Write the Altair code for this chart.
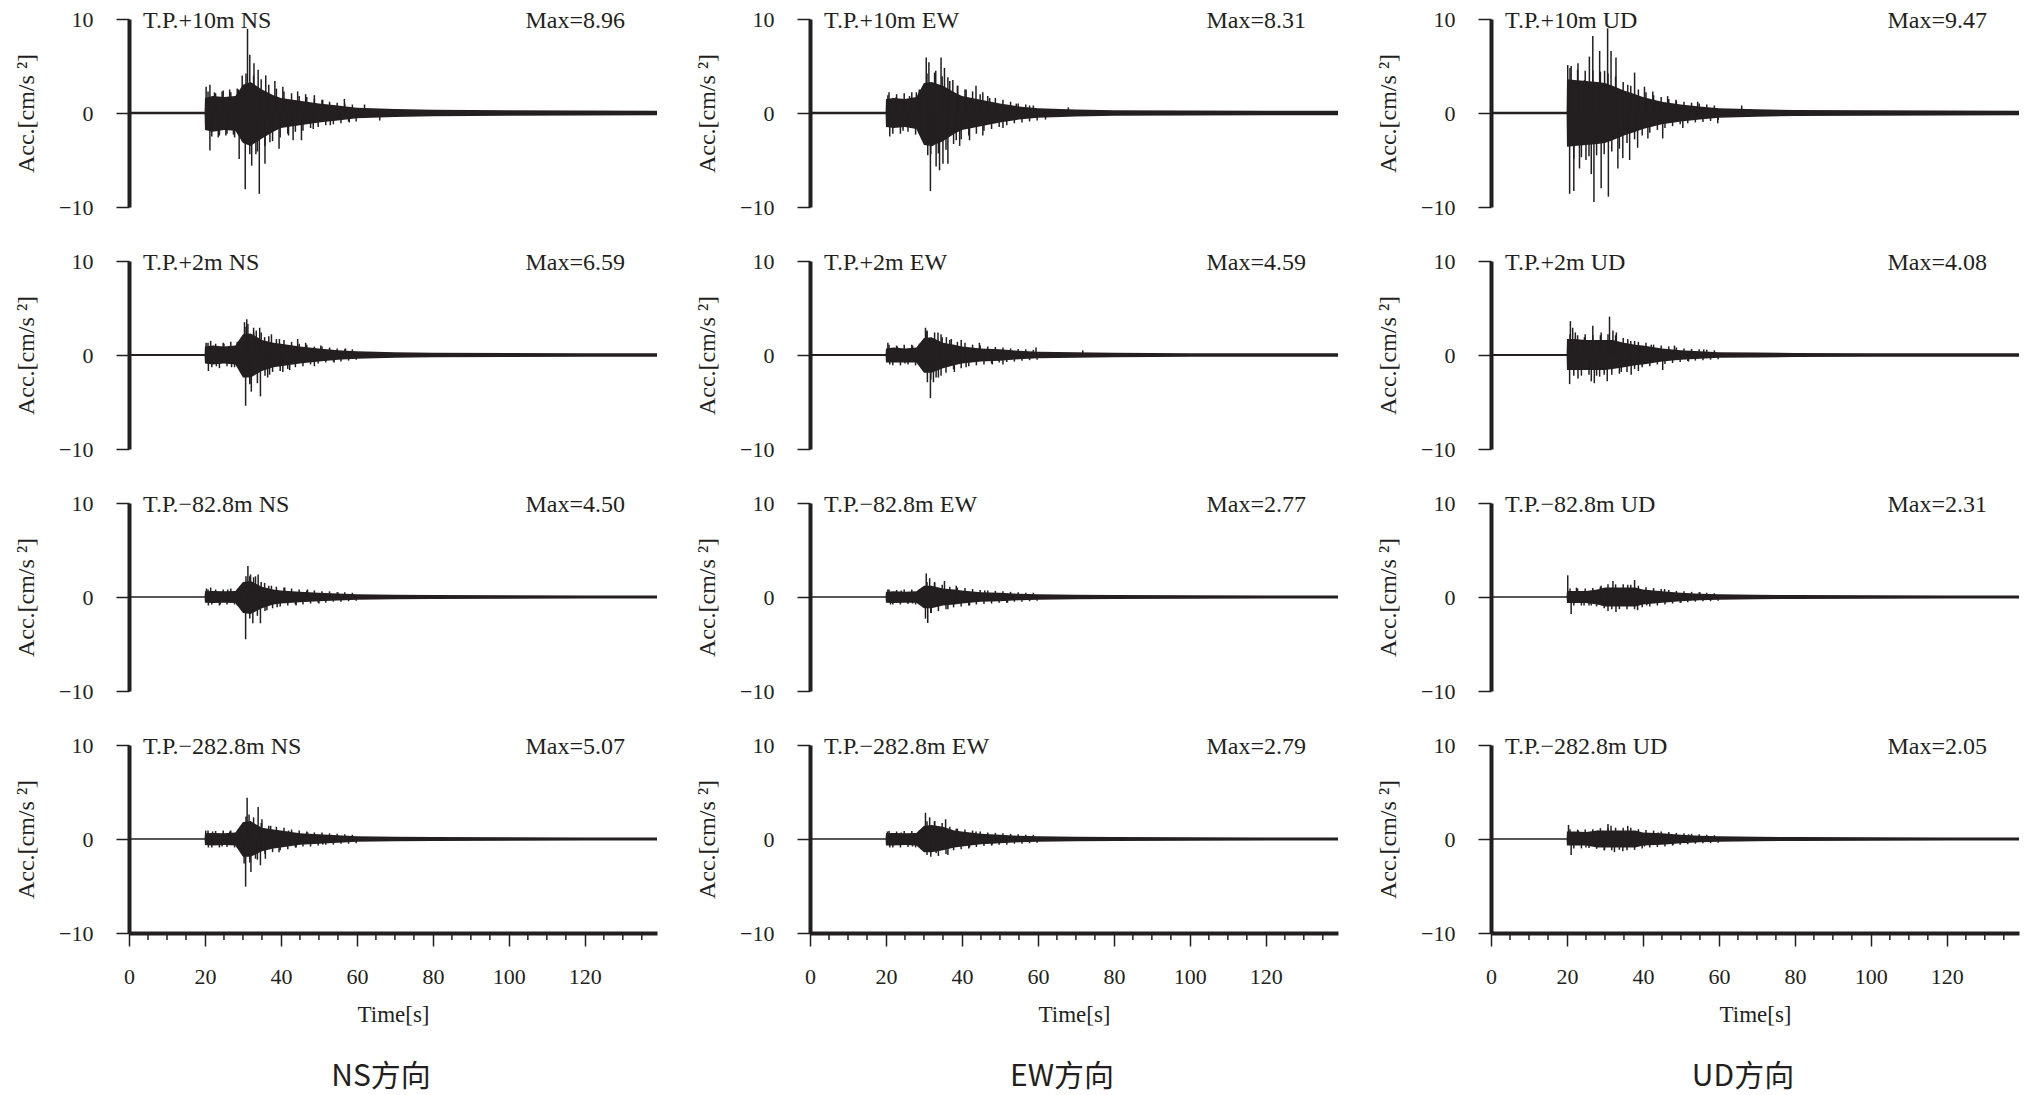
import altair as alt
import pandas as pd

FONT = "Liberation Serif"
CJK = "Noto Sans CJK SC"
INK = "#231f20"

# ---------------------------------------------------------------- labels
COMPONENTS = ["NS", "EW", "UD"]
LEVELS = ["T.P.+10m", "T.P.+2m", "T.P.\u221282.8m", "T.P.\u2212282.8m"]
MAX_NS = [8.96, 6.59, 4.50, 5.07]
MAX_EW = [8.31, 4.59, 2.77, 2.79]
MAX_UD = [9.47, 4.08, 2.31, 2.05]
MAJOR_TICKS = [0, 20, 40, 60, 80, 100, 120]
MINOR_TICKS = [5, 10, 15, 25, 30, 35, 45, 50, 55, 65, 70, 75, 85, 90, 95,
               105, 110, 115, 125, 130, 135]

# ------------------------------------------------ envelope of dense trace
T_CORE = [0, 19.9, 20, 22, 25, 28, 30, 32, 35, 38, 40, 45, 50, 55, 60, 70, 80, 100, 120, 139]

NS_P10_HI = [0.12, 0.12, 1.6, 1.8, 1.7, 1.8, 3.0, 3.3, 2.5, 1.9, 1.6, 1.3, 1.0, 0.8, 0.55, 0.42, 0.34, 0.28, 0.26, 0.25]
NS_P10_LO = [-0.12, -0.12, -1.8, -2.0, -1.8, -1.9, -3.2, -3.5, -2.7, -2.0, -1.6, -1.3, -1.0, -0.8, -0.55, -0.42, -0.34, -0.28, -0.26, -0.25]
NS_P2_HI = [0.1, 0.1, 0.9, 1.0, 0.9, 1.0, 2.2, 2.3, 1.6, 1.3, 1.2, 0.9, 0.7, 0.5, 0.4, 0.3, 0.25, 0.2, 0.19, 0.18]
NS_P2_LO = [-0.1, -0.1, -0.9, -1.0, -0.9, -1.0, -2.4, -2.4, -1.7, -1.3, -1.2, -0.9, -0.7, -0.5, -0.4, -0.3, -0.25, -0.2, -0.19, -0.18]
NS_M83_HI = [0.08, 0.08, 0.6, 0.65, 0.6, 0.65, 1.6, 1.7, 1.1, 0.8, 0.7, 0.55, 0.45, 0.38, 0.3, 0.24, 0.2, 0.18, 0.17, 0.17]
NS_M83_LO = [-0.08, -0.08, -0.6, -0.65, -0.6, -0.65, -1.7, -1.8, -1.2, -0.8, -0.7, -0.55, -0.45, -0.38, -0.3, -0.24, -0.2, -0.18, -0.17, -0.17]
NS_M283_HI = [0.08, 0.08, 0.6, 0.65, 0.6, 0.7, 1.8, 1.9, 1.2, 1.0, 0.9, 0.6, 0.5, 0.4, 0.3, 0.24, 0.2, 0.18, 0.17, 0.17]
NS_M283_LO = [-0.08, -0.08, -0.65, -0.7, -0.65, -0.7, -1.9, -1.9, -1.3, -1.0, -0.9, -0.6, -0.5, -0.4, -0.3, -0.24, -0.2, -0.18, -0.17, -0.17]

EW_P10_HI = [0.12, 0.12, 1.5, 1.6, 1.5, 1.7, 3.2, 3.3, 2.9, 2.2, 1.8, 1.4, 1.0, 0.7, 0.5, 0.36, 0.3, 0.26, 0.25, 0.25]
EW_P10_LO = [-0.12, -0.12, -1.5, -1.6, -1.5, -1.7, -3.4, -3.5, -3.0, -2.2, -1.8, -1.4, -1.0, -0.7, -0.5, -0.36, -0.3, -0.26, -0.25, -0.25]
EW_P2_HI = [0.1, 0.1, 0.7, 0.8, 0.7, 0.8, 1.8, 1.9, 1.3, 1.1, 0.9, 0.7, 0.6, 0.45, 0.35, 0.28, 0.23, 0.19, 0.18, 0.18]
EW_P2_LO = [-0.1, -0.1, -0.8, -0.8, -0.8, -0.8, -1.9, -1.9, -1.4, -1.1, -0.9, -0.7, -0.6, -0.45, -0.35, -0.28, -0.23, -0.19, -0.18, -0.18]
EW_M83_HI = [0.08, 0.08, 0.55, 0.6, 0.55, 0.6, 1.2, 1.2, 0.9, 0.8, 0.7, 0.5, 0.45, 0.35, 0.28, 0.24, 0.2, 0.18, 0.17, 0.17]
EW_M83_LO = [-0.08, -0.08, -0.6, -0.65, -0.6, -0.6, -1.2, -1.2, -0.9, -0.8, -0.7, -0.5, -0.45, -0.35, -0.28, -0.24, -0.2, -0.18, -0.17, -0.17]
EW_M283_HI = [0.08, 0.08, 0.6, 0.65, 0.6, 0.65, 1.4, 1.5, 1.3, 0.9, 0.8, 0.55, 0.45, 0.35, 0.28, 0.24, 0.2, 0.18, 0.17, 0.17]
EW_M283_LO = [-0.08, -0.08, -0.7, -0.7, -0.65, -0.7, -1.4, -1.4, -1.2, -0.9, -0.8, -0.55, -0.45, -0.35, -0.28, -0.24, -0.2, -0.18, -0.17, -0.17]

UD_P10_HI = [0.12, 0.12, 3.6, 3.5, 3.4, 3.3, 3.2, 2.9, 2.4, 2.0, 1.7, 1.2, 0.9, 0.7, 0.5, 0.4, 0.32, 0.28, 0.26, 0.25]
UD_P10_LO = [-0.12, -0.12, -3.6, -3.5, -3.4, -3.3, -3.2, -2.9, -2.4, -2.0, -1.7, -1.2, -0.9, -0.7, -0.5, -0.4, -0.32, -0.28, -0.26, -0.25]
UD_P2_HI = [0.1, 0.1, 1.7, 1.7, 1.6, 1.6, 1.6, 1.6, 1.3, 1.1, 1.0, 0.7, 0.5, 0.4, 0.3, 0.26, 0.22, 0.19, 0.18, 0.18]
UD_P2_LO = [-0.1, -0.1, -1.6, -1.6, -1.6, -1.6, -1.6, -1.5, -1.3, -1.1, -1.0, -0.7, -0.5, -0.4, -0.3, -0.26, -0.22, -0.19, -0.18, -0.18]
UD_M83_HI = [0.08, 0.08, 0.65, 0.65, 0.65, 0.8, 1.0, 1.0, 1.0, 1.0, 0.8, 0.6, 0.45, 0.35, 0.28, 0.24, 0.2, 0.18, 0.17, 0.17]
UD_M83_LO = [-0.08, -0.08, -0.65, -0.65, -0.65, -0.8, -1.0, -1.0, -1.0, -1.0, -0.8, -0.6, -0.45, -0.35, -0.28, -0.24, -0.2, -0.18, -0.17, -0.17]
UD_M283_HI = [0.08, 0.08, 0.8, 0.8, 0.75, 0.9, 0.9, 0.9, 0.9, 0.9, 0.7, 0.6, 0.45, 0.35, 0.28, 0.24, 0.2, 0.18, 0.17, 0.17]
UD_M283_LO = [-0.08, -0.08, -0.7, -0.7, -0.7, -0.9, -0.9, -0.9, -0.9, -0.9, -0.7, -0.6, -0.45, -0.35, -0.28, -0.24, -0.2, -0.18, -0.17, -0.17]

# --------------------------- ragged edge of the dense part (1 s spacing)
HAIR_T = [20.8, 21.8, 22.8, 23.8, 24.8, 25.8, 26.8, 27.8, 28.8, 29.8,
          30.8, 31.8, 32.8, 33.8, 34.8, 35.8, 36.8, 37.8, 38.8, 39.8,
          40.8, 41.8, 42.8, 43.8, 44.8, 45.8, 46.8, 47.8, 48.8, 49.8,
          50.8, 51.8, 52.8, 53.8, 54.8, 55.8, 56.8, 57.8, 58.8, 59.8]
NS_P10_HAIR = [2.3, -2.5, 2.1, -2.4, 2.4, -2.2, 2.2, -2.6, 2.5, -3.0, 4.2, -4.4, 4.0, -4.1, 3.6, -3.5, 3.0, -3.0, 2.6, -2.6,
               2.3, -2.2, 2.1, -2.0, 1.8, -1.9, 1.7, -1.6, 1.5, -1.5, 1.4, -1.3, 1.2, -1.2, 1.1, -1.1, 1.0, -0.9, 0.9, -0.9]
NS_P2_HAIR = [1.3, -1.3, 1.2, -1.4, 1.3, -1.2, 1.4, -1.3, 1.4, -1.5, 3.0, -3.1, 2.9, -3.0, 2.4, -2.2, 2.0, -1.8, 1.7, -1.7,
              1.6, -1.5, 1.4, -1.3, 1.2, -1.2, 1.1, -1.0, 0.9, -0.9, 0.9, -0.8, 0.8, -0.7, 0.7, -0.7, 0.6, -0.6, 0.6, -0.5]
NS_M83_HAIR = [0.8, -0.8, 0.8, -0.9, 0.8, -0.8, 0.9, -0.8, 0.9, -1.0, 2.2, -2.3, 2.1, -2.0, 1.6, -1.5, 1.2, -1.2, 1.1, -1.0,
               1.0, -0.9, 0.9, -0.8, 0.8, -0.8, 0.7, -0.7, 0.7, -0.6, 0.6, -0.6, 0.6, -0.5, 0.5, -0.5, 0.5, -0.45, 0.45, -0.4]
NS_M283_HAIR = [0.9, -0.9, 0.85, -0.9, 0.9, -0.85, 0.9, -0.9, 1.0, -1.1, 2.4, -2.5, 2.3, -2.2, 1.7, -1.6, 1.4, -1.4, 1.3, -1.2,
                1.2, -1.1, 1.0, -0.9, 0.9, -0.8, 0.8, -0.8, 0.7, -0.7, 0.7, -0.6, 0.6, -0.6, 0.55, -0.5, 0.5, -0.5, 0.45, -0.45]
EW_P10_HAIR = [2.2, -2.2, 2.0, -2.2, 2.1, -2.0, 2.2, -2.3, 2.4, -3.0, 4.2, -4.4, 4.3, -4.3, 3.9, -3.9, 3.4, -3.3, 2.9, -2.8,
               2.5, -2.4, 2.3, -2.2, 2.0, -1.9, 1.8, -1.7, 1.6, -1.5, 1.4, -1.3, 1.2, -1.1, 1.0, -1.0, 0.9, -0.9, 0.8, -0.8]
EW_P2_HAIR = [1.1, -1.1, 1.0, -1.1, 1.1, -1.0, 1.1, -1.1, 1.2, -1.3, 2.5, -2.6, 2.4, -2.4, 1.9, -1.9, 1.6, -1.5, 1.4, -1.4,
              1.3, -1.2, 1.1, -1.1, 1.0, -1.0, 0.9, -0.9, 0.85, -0.8, 0.8, -0.75, 0.7, -0.7, 0.65, -0.6, 0.6, -0.55, 0.55, -0.5]
EW_M83_HAIR = [0.8, -0.8, 0.75, -0.8, 0.8, -0.75, 0.8, -0.8, 0.85, -0.9, 1.6, -1.7, 1.6, -1.5, 1.3, -1.3, 1.1, -1.1, 1.0, -1.0,
               0.95, -0.9, 0.85, -0.8, 0.75, -0.75, 0.7, -0.7, 0.65, -0.6, 0.6, -0.6, 0.55, -0.5, 0.5, -0.5, 0.45, -0.45, 0.45, -0.4]
EW_M283_HAIR = [0.85, -0.9, 0.8, -0.9, 0.85, -0.85, 0.85, -0.9, 0.9, -1.0, 1.9, -1.9, 1.9, -1.8, 1.7, -1.6, 1.3, -1.2, 1.1, -1.1,
                1.0, -1.0, 0.9, -0.85, 0.8, -0.75, 0.7, -0.7, 0.65, -0.6, 0.6, -0.6, 0.55, -0.5, 0.5, -0.5, 0.45, -0.45, 0.45, -0.4]
UD_P10_HAIR = [4.8, -4.9, 4.6, -4.7, 4.5, -4.6, 4.5, -4.5, 4.4, -4.4, 4.2, -4.1, 3.9, -3.8, 3.3, -3.2, 2.9, -2.8, 2.5, -2.4,
               2.2, -2.1, 1.9, -1.8, 1.7, -1.6, 1.5, -1.4, 1.3, -1.2, 1.2, -1.1, 1.1, -1.0, 1.0, -0.95, 0.9, -0.85, 0.8, -0.75]
UD_P2_HAIR = [2.2, -2.2, 2.1, -2.2, 2.2, -2.1, 2.1, -2.2, 2.1, -2.1, 2.2, -2.1, 2.1, -2.0, 1.8, -1.8, 1.5, -1.5, 1.4, -1.3,
              1.3, -1.2, 1.1, -1.0, 1.0, -0.95, 0.9, -0.85, 0.8, -0.75, 0.7, -0.65, 0.65, -0.6, 0.6, -0.55, 0.55, -0.5, 0.5, -0.45]
UD_M83_HAIR = [0.9, -0.9, 0.9, -0.9, 0.9, -0.9, 0.95, -1.0, 1.1, -1.2, 1.35, -1.3, 1.35, -1.3, 1.35, -1.3, 1.3, -1.3, 1.2, -1.1,
               1.05, -1.0, 0.95, -0.9, 0.85, -0.8, 0.75, -0.7, 0.65, -0.6, 0.6, -0.55, 0.55, -0.5, 0.5, -0.45, 0.45, -0.45, 0.4, -0.4]
UD_M283_HAIR = [1.05, -1.0, 1.0, -1.0, 1.0, -0.95, 1.05, -1.05, 1.15, -1.2, 1.2, -1.2, 1.2, -1.15, 1.2, -1.2, 1.2, -1.15, 1.05, -1.0,
                0.95, -0.9, 0.9, -0.85, 0.8, -0.8, 0.75, -0.7, 0.65, -0.6, 0.6, -0.55, 0.55, -0.5, 0.5, -0.45, 0.45, -0.45, 0.4, -0.4]

# ------------------------------------------------------ individual peaks
NS_P10_ST = [20.3, 21.3, 21.3, 22.5, 23.5, 24.5, 25.5, 26.5, 27.5, 28.5, 29.0, 29.8, 30.6, 31.2, 31.8, 32.3, 32.9, 33.4, 34.0, 34.3, 35.8, 36.0, 37.1, 38.4, 39.5, 40.5, 42.0, 43.2, 44.4, 45.4, 46.5, 48.5, 48.8, 51.0, 53.0, 56.7, 58.0, 62.0, 66.0]
NS_P10_SV = [2.8, 3.0, -4.0, 2.2, -2.6, 2.3, -2.4, 2.5, -2.3, 2.6, -4.9, 4.0, -8.1, 8.96, 6.2, -5.6, 5.3, -4.4, 4.6, -8.6, -5.4, 4.0, -3.1, 3.4, -3.8, 2.8, -2.4, -2.9, 2.3, -2.9, 2.0, -1.7, 1.9, 1.4, -1.3, 1.5, -1.0, 0.9, -0.8]
NS_P2_ST = [20.3, 20.9, 21.5, 23.0, 25.0, 27.0, 28.5, 29.5, 30.4, 30.7, 31.0, 31.3, 31.8, 32.2, 32.8, 33.5, 34.4, 34.6, 35.7, 36.5, 37.0, 37.5, 39.6, 40.5, 42.3, 44.4, 46.5, 48.8, 50.5, 54.0, 57.0]
NS_P2_SV = [1.3, -1.7, 1.5, -1.2, 1.2, -1.3, 1.4, -1.6, 3.5, -5.4, 3.8, 3.3, -3.0, -3.9, 2.4, 2.6, 2.9, -4.4, 1.9, -2.4, -2.1, 2.2, 1.7, -1.8, -1.6, 1.7, 1.3, -1.2, 1.0, -0.8, 0.7]
NS_M83_ST = [20.4, 20.9, 21.5, 24.0, 26.0, 28.5, 29.5, 30.7, 31.3, 31.8, 32.0, 32.6, 33.3, 34.0, 34.6, 35.7, 36.3, 37.5, 39.0, 41.0, 44.0, 47.0, 50.0, 55.0]
NS_M83_SV = [0.9, -0.9, 1.0, -0.8, 0.8, -0.9, 1.0, -4.5, 3.3, 2.2, 2.4, -2.8, 2.2, 2.4, -2.8, 1.5, -1.4, 1.2, -1.1, 1.0, -0.9, 0.8, -0.7, 0.5]
NS_M283_ST = [20.2, 20.9, 22.0, 24.5, 26.5, 28.5, 29.5, 30.3, 30.7, 31.1, 31.6, 32.0, 32.1, 33.3, 34.0, 34.6, 35.0, 35.9, 37.3, 39.5, 42.0, 44.0, 47.0, 51.0]
NS_M283_SV = [0.9, -0.9, 0.8, -0.8, 0.8, -0.9, 1.0, -2.6, -5.07, 4.4, 2.6, 1.9, -3.5, -2.1, 3.4, -2.8, 2.1, -2.1, 1.4, -1.4, 0.9, -0.9, 0.7, -0.6]

EW_P10_ST = [20.5, 21.0, 22.7, 24.5, 26.2, 28.0, 28.8, 28.8, 30.6, 31.0, 31.3, 31.7, 32.3, 33.1, 33.2, 34.1, 34.5, 35.0, 35.4, 36.3, 36.3, 37.6, 38.5, 38.9, 39.4, 41.1, 42.0, 43.7, 45.5, 45.5, 47.3, 50.8, 54.3, 57.8, 62.0, 68.0]
EW_P10_SV = [1.9, -2.5, 1.7, -1.9, 1.8, 2.2, 2.5, -2.2, 5.9, -4.5, 5.4, -8.31, -3.5, 4.5, -5.7, -6.1, 5.9, -5.4, 4.8, 3.8, -5.4, 3.5, -2.9, 2.9, -3.5, 2.5, -2.9, 2.9, 2.2, -2.4, 1.6, -1.6, 1.0, 0.8, -0.7, 0.6]
EW_P2_ST = [20.5, 21.0, 23.0, 25.0, 27.0, 29.0, 30.4, 30.8, 30.9, 31.7, 32.5, 33.2, 33.7, 34.5, 34.5, 35.9, 37.2, 38.0, 39.8, 41.1, 44.6, 48.0, 50.8, 59.5, 71.8]
EW_P2_SV = [1.3, -1.0, 0.9, -0.9, 1.0, -1.0, 2.9, 2.6, -2.9, -4.59, -2.9, -2.4, 2.4, 2.2, -2.2, 1.9, 1.7, -1.8, 1.6, -1.3, 1.3, -1.0, -1.0, 0.8, 0.5]
EW_M83_ST = [20.5, 21.2, 24.0, 27.0, 29.5, 30.4, 30.6, 31.0, 31.5, 31.9, 32.8, 35.4, 36.3, 38.5, 42.0, 46.0, 52.0]
EW_M83_SV = [0.8, -0.8, 0.7, -0.7, 0.8, -2.3, 2.5, -2.77, 2.0, -1.7, 1.5, 1.7, -1.3, 1.2, -0.9, 0.7, -0.6]
EW_M283_ST = [20.4, 21.0, 24.0, 27.0, 29.5, 30.4, 30.8, 31.5, 32.8, 33.2, 35.7, 36.3, 38.5, 42.0, 43.7, 48.0]
EW_M283_SV = [0.8, -0.9, 0.7, -0.8, 0.9, 2.79, -1.7, 2.3, 1.9, -1.5, 2.1, -1.7, 1.1, -0.9, 0.8, -0.6]

UD_P10_ST = [20.2, 20.7, 21.1, 21.8, 22.9, 23.3, 24.6, 25.0, 25.9, 26.4, 26.8, 27.1, 28.6, 29.0, 29.9, 30.7, 30.9, 31.6, 32.9, 33.4, 34.7, 36.0, 36.5, 37.8, 38.6, 40.4, 41.3, 42.6, 45.2, 46.5, 48.7, 50.5, 54.4, 59.7, 66.0]
UD_P10_SV = [5.1, -8.6, 5.0, -8.3, 5.3, -5.9, 3.5, -5.0, 6.0, -6.5, 8.2, -9.47, 6.6, -8.0, 4.5, 9.0, -8.9, 6.6, 5.9, -5.9, -4.8, 3.0, -5.0, 4.3, -3.7, 2.8, -2.7, 2.3, -2.7, 1.8, 1.4, -1.6, 1.2, -1.1, 0.8]
UD_P2_ST = [20.7, 20.9, 21.5, 22.2, 22.9, 24.6, 26.4, 26.8, 27.2, 28.6, 29.0, 30.6, 31.2, 32.1, 33.0, 34.3, 36.0, 36.9, 37.8, 38.8, 42.2, 45.2, 48.3, 52.0, 56.0]
UD_P2_SV = [-3.1, 3.6, 2.9, 2.4, -2.5, 1.9, -2.8, 3.1, -3.0, -2.3, 2.4, -2.8, 4.08, 2.6, 2.4, -1.8, 1.7, -2.1, 1.5, -1.7, 1.1, -1.6, 1.0, -0.7, 0.6]
UD_M83_ST = [20.2, 21.1, 22.5, 24.5, 26.4, 29.0, 30.8, 32.1, 32.9, 36.0, 37.8, 38.6, 41.0, 45.7, 50.0, 55.0]
UD_M83_SV = [2.31, -1.8, 1.0, -0.9, -0.9, 1.2, -1.5, 1.7, -1.6, 1.3, 1.8, -1.4, -0.9, 0.85, -0.6, 0.5]
UD_M283_ST = [20.4, 21.1, 23.0, 25.0, 28.1, 29.9, 30.8, 31.6, 32.5, 34.7, 36.0, 37.8, 40.4, 44.0, 48.0, 52.0]
UD_M283_SV = [1.5, -1.7, 0.9, -0.9, 0.9, -1.2, 1.6, 1.4, -1.4, -1.3, 1.4, 0.8, -0.8, 0.7, -0.6, 0.5]

PANELS = [
    ("NS", 0, NS_P10_HI, NS_P10_LO, NS_P10_HAIR, NS_P10_ST, NS_P10_SV, MAX_NS[0]),
    ("EW", 0, EW_P10_HI, EW_P10_LO, EW_P10_HAIR, EW_P10_ST, EW_P10_SV, MAX_EW[0]),
    ("UD", 0, UD_P10_HI, UD_P10_LO, UD_P10_HAIR, UD_P10_ST, UD_P10_SV, MAX_UD[0]),
    ("NS", 1, NS_P2_HI, NS_P2_LO, NS_P2_HAIR, NS_P2_ST, NS_P2_SV, MAX_NS[1]),
    ("EW", 1, EW_P2_HI, EW_P2_LO, EW_P2_HAIR, EW_P2_ST, EW_P2_SV, MAX_EW[1]),
    ("UD", 1, UD_P2_HI, UD_P2_LO, UD_P2_HAIR, UD_P2_ST, UD_P2_SV, MAX_UD[1]),
    ("NS", 2, NS_M83_HI, NS_M83_LO, NS_M83_HAIR, NS_M83_ST, NS_M83_SV, MAX_NS[2]),
    ("EW", 2, EW_M83_HI, EW_M83_LO, EW_M83_HAIR, EW_M83_ST, EW_M83_SV, MAX_EW[2]),
    ("UD", 2, UD_M83_HI, UD_M83_LO, UD_M83_HAIR, UD_M83_ST, UD_M83_SV, MAX_UD[2]),
    ("NS", 3, NS_M283_HI, NS_M283_LO, NS_M283_HAIR, NS_M283_ST, NS_M283_SV, MAX_NS[3]),
    ("EW", 3, EW_M283_HI, EW_M283_LO, EW_M283_HAIR, EW_M283_ST, EW_M283_SV, MAX_EW[3]),
    ("UD", 3, UD_M283_HI, UD_M283_LO, UD_M283_HAIR, UD_M283_ST, UD_M283_SV, MAX_UD[3]),
]

W, H = 528, 188
XSCALE = alt.Scale(domain=[0, 139], nice=False, zero=False)
YSCALE = alt.Scale(domain=[-10, 10], nice=False)

Y_AXIS = alt.Axis(
    values=[-10, 0, 10], title="Acc.[cm/s \u00b2]", grid=False,
    domainColor=INK, domainWidth=4, tickColor=INK, tickWidth=1.5, tickSize=13,
    labelFont=FONT, labelFontSize=22, labelColor=INK, labelPadding=23,
    labelFlush=False, labelOverlap=False,
    titleFont=FONT, titleFontSize=24, titleFontWeight="normal", titleColor=INK,
    titlePadding=20,
)
X_AXIS = alt.Axis(
    values=MAJOR_TICKS, title="Time[s]", grid=False,
    domainColor=INK, domainWidth=4, tickColor=INK, tickWidth=1.5, tickSize=13,
    labelFont=FONT, labelFontSize=22, labelColor=INK, labelPadding=20,
    labelFlush=False, labelOverlap=False,
    titleFont=FONT, titleFontSize=23, titleFontWeight="normal", titleColor=INK,
    titlePadding=16,
)


def panel(comp, row, hi, lo, hair, st, sv, maxv):
    bottom = row == 3
    xaxis = X_AXIS if bottom else None
    core = pd.DataFrame({"t": T_CORE, "hi": hi, "lo": lo})
    peaks = pd.DataFrame({"t": HAIR_T + st, "v": hair + sv})
    peaks["z"] = 0.0
    area = alt.Chart(core).mark_area(color=INK, strokeWidth=0).encode(
        x=alt.X("t:Q", scale=XSCALE, axis=xaxis),
        y=alt.Y("hi:Q", scale=YSCALE, axis=Y_AXIS),
        y2="lo:Q",
    )
    rules = alt.Chart(peaks).mark_rule(color=INK, strokeWidth=1.5).encode(
        x=alt.X("t:Q", scale=XSCALE, axis=xaxis),
        y=alt.Y("z:Q", scale=YSCALE, axis=Y_AXIS),
        y2="v:Q",
    )
    lab = alt.Chart(pd.DataFrame({
        "name": [f"{LEVELS[row]} {comp}"],
        "mx": [f"Max={maxv:.2f}"],
    }))
    left = lab.mark_text(align="left", baseline="middle", font=FONT, fontSize=24,
                         color=INK).encode(x=alt.value(14), y=alt.value(2), text="name:N")
    right = lab.mark_text(align="right", baseline="middle", font=FONT, fontSize=24,
                          color=INK).encode(x=alt.value(496), y=alt.value(2), text="mx:N")
    layers = [area, rules, left, right]
    if bottom:
        minor = alt.Chart(pd.DataFrame({"t": MINOR_TICKS})).mark_rule(
            color=INK, strokeWidth=1.5).encode(
            x=alt.X("t:Q", scale=XSCALE, axis=xaxis),
            y=alt.value(H), y2=alt.value(H + 7))
        layers.append(minor)
    ch = alt.layer(*layers).properties(width=W, height=H)
    if bottom:
        ch = ch.properties(title=alt.TitleParams(
            text=f"{comp}\u65b9\u5411", orient="bottom", anchor="middle",
            font=CJK, fontSize=30, fontWeight="normal", color=INK,
            offset=36, dx=-12))
    return ch


chart = alt.concat(
    *[panel(*p) for p in PANELS],
    columns=3,
    spacing={"row": 54, "column": 153},
    bounds="flush",
).properties(
    padding={"left": 6, "top": 0, "right": 4, "bottom": 3},
    background="white",
).configure_view(stroke=None)

chart.save("out.html", embed_options={"renderer": "svg", "actions": False})
